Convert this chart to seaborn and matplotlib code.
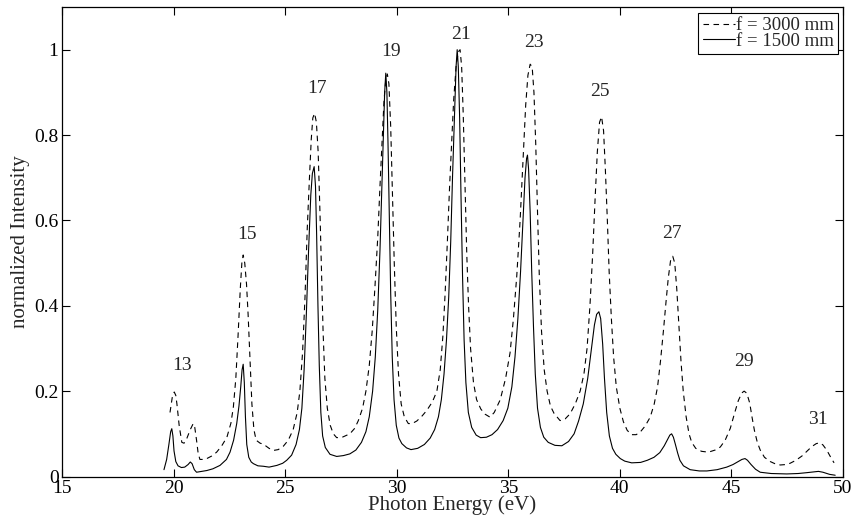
import numpy as np
import pandas as pd
import matplotlib
matplotlib.use("Agg")
import matplotlib.pyplot as plt
import seaborn as sns

# ---- data ----
energy_1500 = [19.57, 19.69, 19.79, 19.87, 19.92, 19.97, 20.02, 20.10, 20.20, 20.35, 20.50, 20.65,
               20.75, 20.83, 20.93, 21.03, 21.26, 21.49, 21.76, 22.08, 22.37, 22.53, 22.69, 22.83,
               22.93, 23.01, 23.07, 23.12, 23.17, 23.22, 23.28, 23.37, 23.48, 23.58, 23.78, 24.02,
               24.28, 24.63, 24.89, 25.07, 25.29, 25.49, 25.64, 25.75, 25.85, 25.95, 26.05, 26.15,
               26.22, 26.30, 26.36, 26.41, 26.47, 26.53, 26.60, 26.68, 26.80, 27.01, 27.31, 27.61,
               27.90, 28.17, 28.42, 28.62, 28.77, 28.92, 29.04, 29.15, 29.25, 29.33, 29.40, 29.46,
               29.51, 29.56, 29.61, 29.67, 29.73, 29.80, 29.88, 29.98, 30.10, 30.23, 30.44, 30.64,
               30.94, 31.24, 31.50, 31.70, 31.87, 32.00, 32.12, 32.23, 32.33, 32.42, 32.50, 32.59,
               32.66, 32.71, 32.76, 32.82, 32.88, 32.95, 33.02, 33.10, 33.21, 33.36, 33.56, 33.76,
               34.02, 34.27, 34.52, 34.77, 34.98, 35.16, 35.30, 35.43, 35.55, 35.66, 35.75, 35.82,
               35.86, 35.91, 35.98, 36.05, 36.13, 36.21, 36.31, 36.44, 36.59, 36.79, 37.09, 37.40,
               37.70, 37.95, 38.15, 38.36, 38.56, 38.73, 38.86, 38.96, 39.06, 39.14, 39.23, 39.31,
               39.41, 39.53, 39.67, 39.82, 40.02, 40.22, 40.53, 40.93, 41.23, 41.53, 41.79, 41.99,
               42.14, 42.24, 42.32, 42.40, 42.49, 42.59, 42.69, 42.85, 43.15, 43.56, 43.90, 44.36,
               44.79, 45.07, 45.27, 45.47, 45.61, 45.72, 45.88, 46.08, 46.29, 46.78, 47.48, 47.99,
               48.38, 48.70, 48.90, 49.10, 49.40, 49.65]
intensity_1500 = [0.016, 0.040, 0.075, 0.105, 0.112, 0.095, 0.060, 0.035, 0.025, 0.021, 0.022, 0.028,
                  0.034, 0.030, 0.016, 0.010, 0.012, 0.014, 0.018, 0.026, 0.040, 0.057, 0.085, 0.124,
                  0.165, 0.210, 0.250, 0.263, 0.220, 0.140, 0.075, 0.045, 0.034, 0.030, 0.025, 0.024,
                  0.022, 0.026, 0.031, 0.038, 0.050, 0.075, 0.110, 0.160, 0.250, 0.380, 0.530, 0.660,
                  0.710, 0.726, 0.680, 0.570, 0.400, 0.260, 0.150, 0.095, 0.068, 0.052, 0.047, 0.049,
                  0.053, 0.062, 0.080, 0.105, 0.140, 0.200, 0.280, 0.390, 0.530, 0.670, 0.800, 0.900,
                  0.945, 0.900, 0.780, 0.600, 0.430, 0.280, 0.180, 0.120, 0.090, 0.077, 0.067, 0.063,
                  0.066, 0.075, 0.090, 0.110, 0.140, 0.180, 0.240, 0.320, 0.420, 0.550, 0.700, 0.850,
                  0.960, 1.000, 0.960, 0.840, 0.660, 0.470, 0.320, 0.220, 0.150, 0.115, 0.097, 0.091,
                  0.092, 0.098, 0.110, 0.131, 0.160, 0.210, 0.280, 0.370, 0.480, 0.600, 0.700, 0.745,
                  0.753, 0.720, 0.620, 0.480, 0.350, 0.240, 0.160, 0.115, 0.092, 0.080, 0.073, 0.072,
                  0.082, 0.100, 0.130, 0.170, 0.230, 0.300, 0.355, 0.380, 0.386, 0.370, 0.310, 0.230,
                  0.150, 0.095, 0.066, 0.052, 0.042, 0.036, 0.032, 0.033, 0.038, 0.045, 0.056, 0.072,
                  0.087, 0.097, 0.100, 0.092, 0.075, 0.055, 0.038, 0.025, 0.016, 0.013, 0.013, 0.016,
                  0.022, 0.028, 0.034, 0.040, 0.042, 0.038, 0.028, 0.017, 0.010, 0.007, 0.006, 0.007,
                  0.009, 0.011, 0.012, 0.010, 0.005, 0.003]

energy_3000 = [19.84, 19.94, 20.03, 20.10, 20.15, 20.25, 20.37, 20.47, 20.60, 20.75, 20.88, 20.95,
               21.03, 21.10, 21.18, 21.36, 21.49, 21.71, 21.93, 22.16, 22.39, 22.57, 22.68, 22.79,
               22.89, 22.99, 23.06, 23.12, 23.19, 23.27, 23.34, 23.43, 23.51, 23.60, 23.70, 23.88,
               24.02, 24.28, 24.47, 24.69, 24.92, 25.14, 25.36, 25.54, 25.66, 25.78, 25.89, 25.99,
               26.09, 26.17, 26.24, 26.32, 26.40, 26.48, 26.56, 26.63, 26.70, 26.78, 26.89, 27.02,
               27.16, 27.31, 27.56, 27.90, 28.12, 28.28, 28.47, 28.62, 28.77, 28.90, 29.02, 29.15,
               29.25, 29.35, 29.43, 29.51, 29.58, 29.65, 29.73, 29.81, 29.89, 29.98, 30.08, 30.20,
               30.34, 30.52, 30.69, 30.90, 31.14, 31.35, 31.60, 31.80, 31.95, 32.07, 32.17, 32.27,
               32.37, 32.46, 32.55, 32.66, 32.76, 32.84, 32.91, 32.98, 33.06, 33.14, 33.22, 33.31,
               33.44, 33.58, 33.77, 33.96, 34.18, 34.37, 34.64, 34.88, 35.08, 35.23, 35.38, 35.53,
               35.66, 35.78, 35.88, 35.98, 36.07, 36.15, 36.23, 36.31, 36.39, 36.49, 36.61, 36.74,
               36.89, 37.05, 37.32, 37.55, 37.77, 38.00, 38.22, 38.39, 38.53, 38.66, 38.78, 38.89,
               38.99, 39.09, 39.18, 39.27, 39.35, 39.44, 39.52, 39.62, 39.72, 39.84, 40.00, 40.16,
               40.33, 40.53, 40.73, 40.91, 41.13, 41.36, 41.54, 41.69, 41.82, 41.95, 42.07, 42.17,
               42.27, 42.37, 42.46, 42.55, 42.64, 42.74, 42.84, 42.97, 43.10, 43.22, 43.40, 43.66,
               43.97, 44.27, 44.50, 44.72, 44.95, 45.15, 45.31, 45.47, 45.57, 45.69, 45.82, 45.92,
               46.03, 46.16, 46.29, 46.48, 46.74, 46.99, 47.19, 47.44, 47.63, 47.89, 48.16, 48.40,
               48.60, 48.80, 48.95, 49.10, 49.27, 49.45, 49.60]
intensity_3000 = [0.150, 0.185, 0.198, 0.190, 0.170, 0.120, 0.080, 0.078, 0.090, 0.110, 0.124, 0.115,
                  0.085, 0.055, 0.040, 0.040, 0.042, 0.048, 0.057, 0.072, 0.092, 0.125, 0.163, 0.230,
                  0.330, 0.440, 0.500, 0.519, 0.500, 0.450, 0.380, 0.270, 0.170, 0.110, 0.085, 0.078,
                  0.076, 0.066, 0.061, 0.063, 0.071, 0.085, 0.110, 0.150, 0.200, 0.290, 0.420, 0.580,
                  0.700, 0.790, 0.840, 0.851, 0.830, 0.760, 0.620, 0.480, 0.340, 0.230, 0.160, 0.120,
                  0.100, 0.091, 0.092, 0.100, 0.113, 0.131, 0.160, 0.200, 0.260, 0.340, 0.440, 0.560,
                  0.680, 0.790, 0.880, 0.930, 0.943, 0.920, 0.820, 0.660, 0.500, 0.350, 0.240, 0.170,
                  0.140, 0.124, 0.124, 0.130, 0.142, 0.155, 0.175, 0.200, 0.250, 0.330, 0.430, 0.550,
                  0.680, 0.780, 0.880, 0.960, 0.995, 1.000, 0.960, 0.850, 0.680, 0.520, 0.400, 0.300,
                  0.220, 0.180, 0.158, 0.146, 0.139, 0.150, 0.180, 0.230, 0.290, 0.370, 0.470, 0.600,
                  0.740, 0.870, 0.940, 0.966, 0.960, 0.900, 0.780, 0.620, 0.470, 0.340, 0.250, 0.200,
                  0.165, 0.148, 0.131, 0.135, 0.147, 0.170, 0.200, 0.240, 0.300, 0.400, 0.520, 0.650,
                  0.760, 0.830, 0.843, 0.810, 0.720, 0.600, 0.480, 0.370, 0.280, 0.210, 0.160, 0.128,
                  0.108, 0.098, 0.098, 0.104, 0.118, 0.139, 0.170, 0.210, 0.270, 0.340, 0.410, 0.465,
                  0.505, 0.516, 0.500, 0.440, 0.360, 0.270, 0.200, 0.140, 0.100, 0.080, 0.066, 0.059,
                  0.057, 0.062, 0.069, 0.085, 0.113, 0.150, 0.178, 0.196, 0.200, 0.195, 0.172, 0.140,
                  0.108, 0.080, 0.062, 0.045, 0.035, 0.029, 0.027, 0.028, 0.031, 0.038, 0.048, 0.060,
                  0.070, 0.077, 0.079, 0.074, 0.062, 0.045, 0.032]

harmonic_labels = ["13", "15", "17", "19", "21", "23", "25", "27", "29", "31"]
label_x = [20.40, 23.27, 26.41, 29.73, 32.88, 36.13, 39.11, 42.34, 45.57, 48.87]
label_y = [0.26, 0.566, 0.91, 0.996, 1.035, 1.016, 0.902, 0.57, 0.27, 0.133]

x_ticks = [15, 20, 25, 30, 35, 40, 45, 50]
y_ticks = [0, 0.2, 0.4, 0.6, 0.8, 1.0]
y_tick_labels = ["0", "0.2", "0.4", "0.6", "0.8", "1"]

# ---- plotting ----
sns.set_style("ticks")
plt.rcParams["font.family"] = ["Liberation Serif", "DejaVu Serif"]

fig = plt.figure(figsize=(8.64, 5.21), dpi=100)
ax = fig.add_axes([62 / 864, 1 - 476.5 / 521, 781 / 864, 469.5 / 521])

df3000 = pd.DataFrame({"energy": energy_3000, "intensity": intensity_3000})
df1500 = pd.DataFrame({"energy": energy_1500, "intensity": intensity_1500})

sns.lineplot(data=df3000, x="energy", y="intensity", ax=ax, color="black", lw=0.8,
             linestyle=(0, (5, 4)), sort=False, label="f = 3000 mm")
sns.lineplot(data=df1500, x="energy", y="intensity", ax=ax, color="black", lw=0.8,
             sort=False, label="f = 1500 mm")

for t, xx, yy in zip(harmonic_labels, label_x, label_y):
    ax.text(xx, yy, t, ha="center", va="center", fontsize=14)

ax.set_xlim(15, 50)
ax.set_ylim(0, 1.1)
ax.set_xticks(x_ticks)
ax.set_xticklabels([str(v) for v in x_ticks])
ax.set_yticks(y_ticks)
ax.set_yticklabels(y_tick_labels)
ax.tick_params(direction="in", length=5.5, width=0.8, top=True, right=True,
               labelsize=14, pad=2.5, colors="black")
for s in ax.spines.values():
    s.set_visible(True)
    s.set_linewidth(0.9)
    s.set_color("black")

ax.set_xlabel("Photon Energy (eV)", fontsize=15, labelpad=-1)
ax.set_ylabel("normalized Intensity", fontsize=15, labelpad=3)

leg = ax.legend(loc="upper right", bbox_to_anchor=(0.994, 0.988), frameon=True,
                fancybox=False, edgecolor="black", fontsize=13.5, handlelength=1.7,
                handletextpad=0.05, borderpad=0.25, labelspacing=-0.1,
                borderaxespad=0, framealpha=1)
leg.get_frame().set_linewidth(0.8)

fig.savefig("out.png", dpi=100)
